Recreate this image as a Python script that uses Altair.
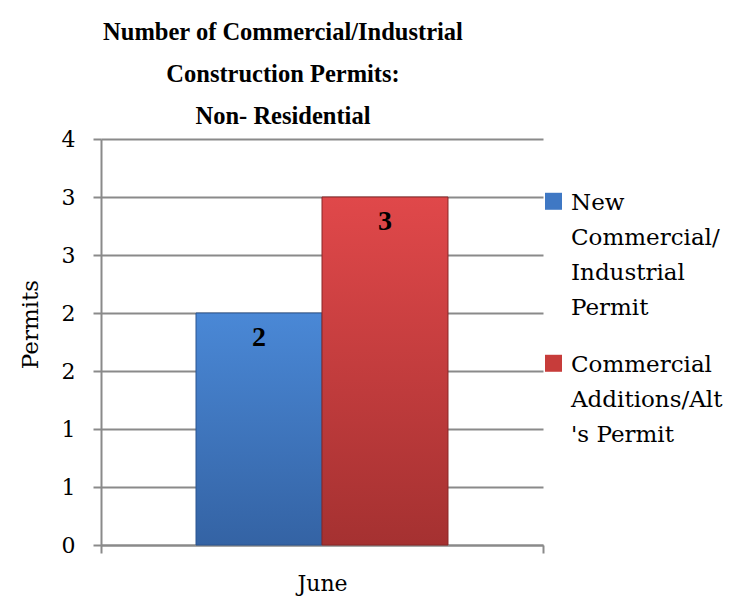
import altair as alt
import pandas as pd

months = ["June", "June"]
series = ["New|Commercial/|Industrial|Permit", "Commercial|Additions/Alt|'s Permit"]
values = [2, 3]
y_ticks = [0, 0.5, 1, 1.5, 2, 2.5, 3, 3.5]
title_lines = ["Number of Commercial/Industrial", "Construction Permits:", "Non- Residential"]

solid = ["#3f78c4", "#c73c3a"]
grad_blue = {"gradient": "linear", "x1": 0, "y1": 0, "x2": 0, "y2": 1,
             "stops": [{"offset": 0, "color": "#4a88d6"}, {"offset": 1, "color": "#3463a4"}]}
grad_red = {"gradient": "linear", "x1": 0, "y1": 0, "x2": 0, "y2": 1,
            "stops": [{"offset": 0, "color": "#e0484a"}, {"offset": 1, "color": "#a53131"}]}

df = pd.DataFrame({"month": months, "series": series, "value": values})

TFONT = "Liberation Serif"
FONT = "DejaVu Serif"
GRID = "#8a8a8a"

x = alt.X("month:N", scale=alt.Scale(paddingInner=0, paddingOuter=0),
          axis=alt.Axis(title=None, labelAngle=0, labelFont=FONT, labelFontSize=22,
                        labelPadding=20, labelBaseline="top",
                        tickBand="extent", tickSize=8, tickColor=GRID, domainColor=GRID,
                        tickWidth=2, domainWidth=2, labelColor="black"))
xo = alt.XOffset("series:N", sort=series, scale=alt.Scale(paddingInner=0, paddingOuter=0.754))
y = alt.Y("value:Q", scale=alt.Scale(domain=[0, 3.5], nice=False),
          axis=alt.Axis(values=y_ticks, labelExpr="ceil(datum.value)", title="Permits",
                        titleFont=FONT, titleFontSize=23, titleFontWeight="normal",
                        titleX=-59, titleY=185, titleBaseline="bottom", titleAngle=270,
                        titleAlign="center", titleColor="black",
                        labelFont=FONT, labelFontSize=22, labelPadding=18, labelColor="black",
                        tickSize=8, tickColor=GRID, tickWidth=2, domainColor=GRID,
                        domainWidth=2, grid=True, gridColor=GRID, gridWidth=2))

base = alt.Chart(df)

legend_bars = base.mark_bar().encode(
    x=x, xOffset=xo, y=y,
    color=alt.Color("series:N", sort=series,
                    scale=alt.Scale(domain=series, range=solid),
                    legend=alt.Legend(title=None, orient="none", legendX=441, legendY=41,
                                      symbolType="M-1,0.15H1V2.15H-1Z", symbolSize=289,
                                      symbolStrokeWidth=0, labelFont=FONT,
                                      labelFontSize=23, labelLimit=0,
                                      labelExpr="split(datum.label, '|')",
                                      labelBaseline="top", labelOffset=6,
                                      labelColor="black", rowPadding=22)),
)

blue_bar = base.transform_filter(alt.datum.series == series[0]).mark_bar(
    fill=grad_blue, stroke="#2b5590", strokeWidth=1).encode(x=x, xOffset=xo, y=y)
red_bar = base.transform_filter(alt.datum.series == series[1]).mark_bar(
    fill=grad_red, stroke="#8a2727", strokeWidth=1).encode(x=x, xOffset=xo, y=y)

labels = base.mark_text(font=TFONT, fontSize=28, fontWeight="bold", dy=25,
                        baseline="middle", color="black").encode(
    x=x, xOffset=xo, y=y, text="value:Q")

chart = alt.layer(legend_bars, blue_bar, red_bar, labels).properties(
    width=442, height=406,
    autosize=alt.AutoSizeParams(type="none"),
    padding={"left": 93, "top": 131, "right": 185, "bottom": 53},
    title=alt.TitleParams(text=title_lines, font=TFONT, fontSize=24.5, fontWeight="bold",
                          anchor="middle", dx=-39, lineHeight=42, offset=-1, color="black"),
).configure(style={"guide-label": {"font": FONT, "lineHeight": 35}}
).configure_view(stroke=None)

chart.save("out.html", embed_options={"renderer": "svg", "actions": False})
